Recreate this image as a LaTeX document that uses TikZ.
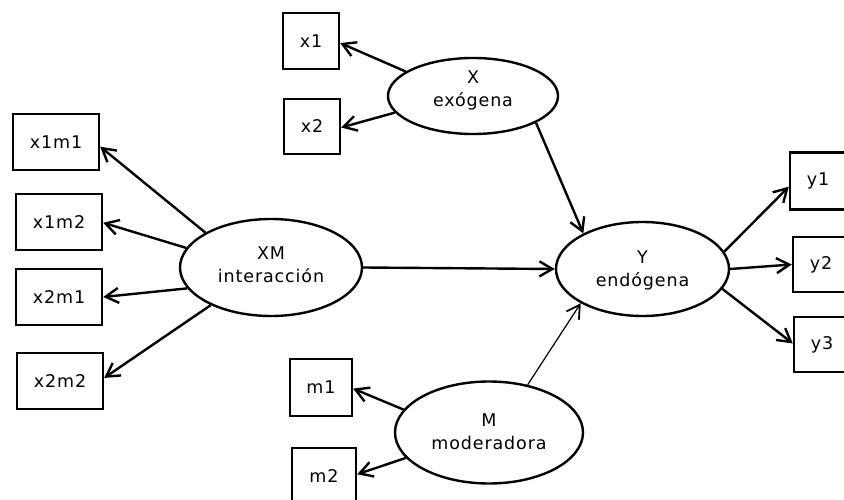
\documentclass[tikz,border=0pt]{standalone}
\usepackage{fontspec}
\setmainfont[LetterSpace=5]{DejaVu Sans}
\usetikzlibrary{arrows.meta,shapes.geometric}
\newcommand\diagfont{\fontsize{17.5}{23}\selectfont}
\begin{document}
\begin{tikzpicture}[x=1pt,y=-1pt,
  box/.style={draw,line width=2.4pt,inner sep=0pt,font=\diagfont},
  lat/.style={ellipse,draw,line width=2.4pt,inner sep=0pt},
  txt/.style={align=center,inner sep=0pt,font=\diagfont},
  arr/.style={line width=2.4pt,-{Straight Barb[length=13pt,width=15pt]}},
  thinarr/.style={line width=1.2pt,-{Straight Barb[length=13pt,width=15pt,line width=1.8pt]}}]
\useasboundingbox (0,0) rectangle (844,500);
\fill[white] (0,0) rectangle (844,500);
\clip (0,0) rectangle (844,500);

% latent variables
\node[lat,minimum width=170pt,minimum height=76pt] (X) at (473,96) {};
\node[txt] (Xt) at (473,90) {X\\exógena};
\node[lat,minimum width=182pt,minimum height=97pt] (XM) at (271,267.5) {};
\node[txt] (XMt) at (271,265) {XM\\interacción};
\node[lat,minimum width=188pt,minimum height=102pt] (M) at (489,432.5) {};
\node[txt] (Mt) at (489,431.5) {M\\moderadora};
\node[lat,minimum width=173pt,minimum height=94pt] (Y) at (642.5,269) {};
\node[txt] (Yt) at (642.5,270.5) {Y\\endógena};

% indicators
\node[box,minimum width=56pt,minimum height=56pt] (x1) at (311,41) {x1};
\node[box,minimum width=56pt,minimum height=55pt] (x2) at (312,126.5) {x2};
\node[box,minimum width=86pt,minimum height=56pt] (x1m1) at (56,142) {x1m1};
\node[box,minimum width=86pt,minimum height=56pt] (x1m2) at (59,222) {x1m2};
\node[box,minimum width=86pt,minimum height=56pt] (x2m1) at (59,297) {x2m1};
\node[box,minimum width=86pt,minimum height=56pt] (x2m2) at (60,381) {x2m2};
\node[box,minimum width=62pt,minimum height=57pt] (m1) at (321,387.5) {m1};
\node[box,minimum width=64pt,minimum height=56pt] (m2) at (324,476) {m2};
\node[box,minimum width=56pt,minimum height=57pt] (y1) at (818,181) {y1};
\node[box,minimum width=56pt,minimum height=55pt] (y2) at (821,264.5) {y2};
\node[box,minimum width=56pt,minimum height=55pt] (y3) at (822,344.5) {y3};

% loadings and paths
\draw[arr] (X.160) -- (x1.-4);
\draw[arr] (X.192) -- (x2.-2);
\draw[arr] (X.337) -- (Y.149);
\draw[arr] (XM.152) -- (x1m1.-6);
\draw[arr] (XM.167) -- (x1m2.-1);
\draw[arr] (XM.194) -- (x2m1.0);
\draw[arr] (XM.212) -- (x2m2.4);
\draw[arr] (XM.east) -- (Y.west);
\draw[arr] (M.165) -- (m1.-2);
\draw[arr] (M.197) -- (m2.3);
\draw[thinarr] (M.51) -- (Y.209);
\draw[arr] (Y.12) -- (y1.191);
\draw[arr] (Y.0) -- (y2.180);
\draw[arr] (Y.346) -- (y3.178);
\end{tikzpicture}
\end{document}
